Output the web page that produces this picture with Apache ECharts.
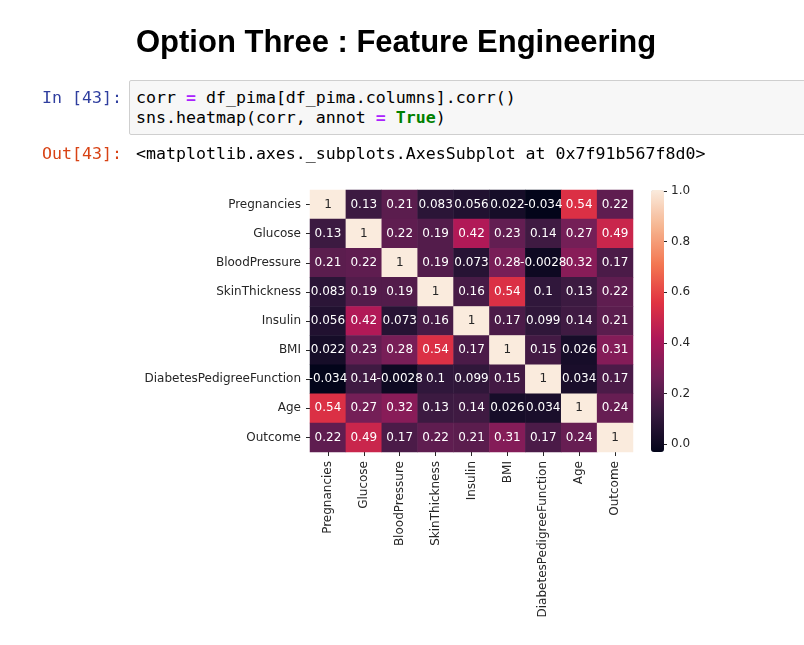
<!DOCTYPE html>
<html>
<head>
<meta charset="utf-8">
<script src="https://cdn.jsdelivr.net/npm/echarts@6/dist/echarts.min.js"></script>
<style>
  html, body { margin: 0; padding: 0; background: #fff; }
  #wrap { position: relative; width: 804px; height: 645px; overflow: hidden; }
  #chart { position: absolute; left: 0; top: 0; width: 804px; height: 645px; }
  .title { position: absolute; left: 136px; top: 26px; font-family: "Liberation Sans", Arial, sans-serif; font-weight: bold; font-size: 31px; line-height: 1; color: #000; white-space: nowrap; }
  .mono { font-family: "DejaVu Sans Mono", monospace; font-size: 16.6px; line-height: 20px; white-space: pre; position: absolute; }
  .prompt-in { color: #303F9F; left: 42px; top: 88px; }
  .prompt-out { color: #D84315; left: 42px; top: 144px; }
  .cell { position: absolute; left: 129px; top: 80px; width: 700px; height: 53px; background: #f7f7f7; border: 1px solid #cfcfcf; border-radius: 2px; }
  .code { left: 136px; top: 88px; color: #000; }
  .out { left: 136px; top: 144px; color: #000; }
  .op { color: #AA22FF; font-weight: bold; }
  .kw { color: #008000; font-weight: bold; }
</style>
</head>
<body>
<div id="wrap">
  <div id="chart"></div>
  <div class="title" id="title">Option Three : Feature Engineering</div>
  <div class="mono prompt-in">In [43]:</div>
  <div class="cell"></div>
  <div class="mono code">corr <span class="op">=</span> df_pima[df_pima.columns].corr()
sns.heatmap(corr, annot <span class="op">=</span> <span class="kw">True</span>)</div>
  <div class="mono prompt-out">Out[43]:</div>
  <div class="mono out">&lt;matplotlib.axes._subplots.AxesSubplot at 0x7f91b567f8d0&gt;</div>
</div>
<script>
const features = ['Pregnancies', 'Glucose', 'BloodPressure', 'SkinThickness', 'Insulin', 'BMI', 'DiabetesPedigreeFunction', 'Age', 'Outcome'];
const rowPregnancies   = [1, 0.13, 0.21, 0.083, 0.056, 0.022, -0.034, 0.54, 0.22];
const rowGlucose       = [0.13, 1, 0.22, 0.19, 0.42, 0.23, 0.14, 0.27, 0.49];
const rowBloodPressure = [0.21, 0.22, 1, 0.19, 0.073, 0.28, -0.0028, 0.32, 0.17];
const rowSkinThickness = [0.083, 0.19, 0.19, 1, 0.16, 0.54, 0.1, 0.13, 0.22];
const rowInsulin       = [0.056, 0.42, 0.073, 0.16, 1, 0.17, 0.099, 0.14, 0.21];
const rowBMI           = [0.022, 0.23, 0.28, 0.54, 0.17, 1, 0.15, 0.026, 0.31];
const rowDPF           = [-0.034, 0.14, -0.0028, 0.1, 0.099, 0.15, 1, 0.034, 0.17];
const rowAge           = [0.54, 0.27, 0.32, 0.13, 0.14, 0.026, 0.034, 1, 0.24];
const rowOutcome       = [0.22, 0.49, 0.17, 0.22, 0.21, 0.31, 0.17, 0.24, 1];
const colorbarTicks = [0, 0.2, 0.4, 0.6, 0.8, 1.0];
const vMin = -0.034, vMax = 1;

const rows = [rowPregnancies, rowGlucose, rowBloodPressure, rowSkinThickness, rowInsulin, rowBMI, rowDPF, rowAge, rowOutcome];
const data = [];
rows.forEach((r, yi) => r.forEach((v, xi) => {
  data.push({ value: [xi, yi, v], label: { color: v > 0.7 ? '#262626' : '#ffffff' } });
}));

const rocket = ['#03051a', '#35193e', '#701f57', '#ad1759', '#e13342', '#f37651', '#f6b48f', '#faebdd'];
const txt = '#262626';
const font = 'DejaVu Sans';

const chart = echarts.init(document.getElementById('chart'));
chart.setOption({
  animation: false,
  backgroundColor: 'transparent',
  grid: [
    { left: 310, top: 190, width: 323, height: 262 },
    { left: 663, top: 191, width: 1, height: 253 }
  ],
  xAxis: [
    { type: 'category', data: features, gridIndex: 0, position: 'bottom',
      axisLine: { show: false }, splitLine: { show: false },
      axisTick: { show: true, alignWithLabel: true, length: 4, lineStyle: { color: txt } },
      axisLabel: { rotate: 90, interval: 0, color: txt, fontFamily: font, fontSize: 12, margin: 9 } },
    { type: 'value', gridIndex: 1, show: false, min: 0, max: 1 }
  ],
  yAxis: [
    { type: 'category', data: features, gridIndex: 0, inverse: true,
      axisLine: { show: false }, splitLine: { show: false },
      axisTick: { show: true, alignWithLabel: true, length: 4, lineStyle: { color: txt } },
      axisLabel: { interval: 0, color: txt, fontFamily: font, fontSize: 12, margin: 9 } },
    { type: 'value', gridIndex: 1, position: 'left', min: 0, max: 1, interval: 0.2,
      axisLine: { show: false }, splitLine: { show: false },
      axisTick: { show: true, inside: true, length: 4, lineStyle: { color: txt } },
      axisLabel: { inside: true, margin: 8, color: txt, fontFamily: font, fontSize: 12,
        formatter: v => v.toFixed(1) },
      data: colorbarTicks }
  ],
  visualMap: {
    type: 'continuous', min: vMin, max: vMax, calculable: false, seriesIndex: 0,
    left: 651, top: 190, itemWidth: 13, itemHeight: 262, padding: 0,
    text: null, showLabel: false, inRange: { color: rocket }
  },
  series: [
    { type: 'heatmap', xAxisIndex: 0, yAxisIndex: 0, data: data,
      label: { show: true, fontFamily: font, fontSize: 12, formatter: p => String(p.value[2]) },
      emphasis: { disabled: true } },
    { type: 'scatter', xAxisIndex: 1, yAxisIndex: 1, data: [] }
  ]
});
</script>
</body>
</html>
